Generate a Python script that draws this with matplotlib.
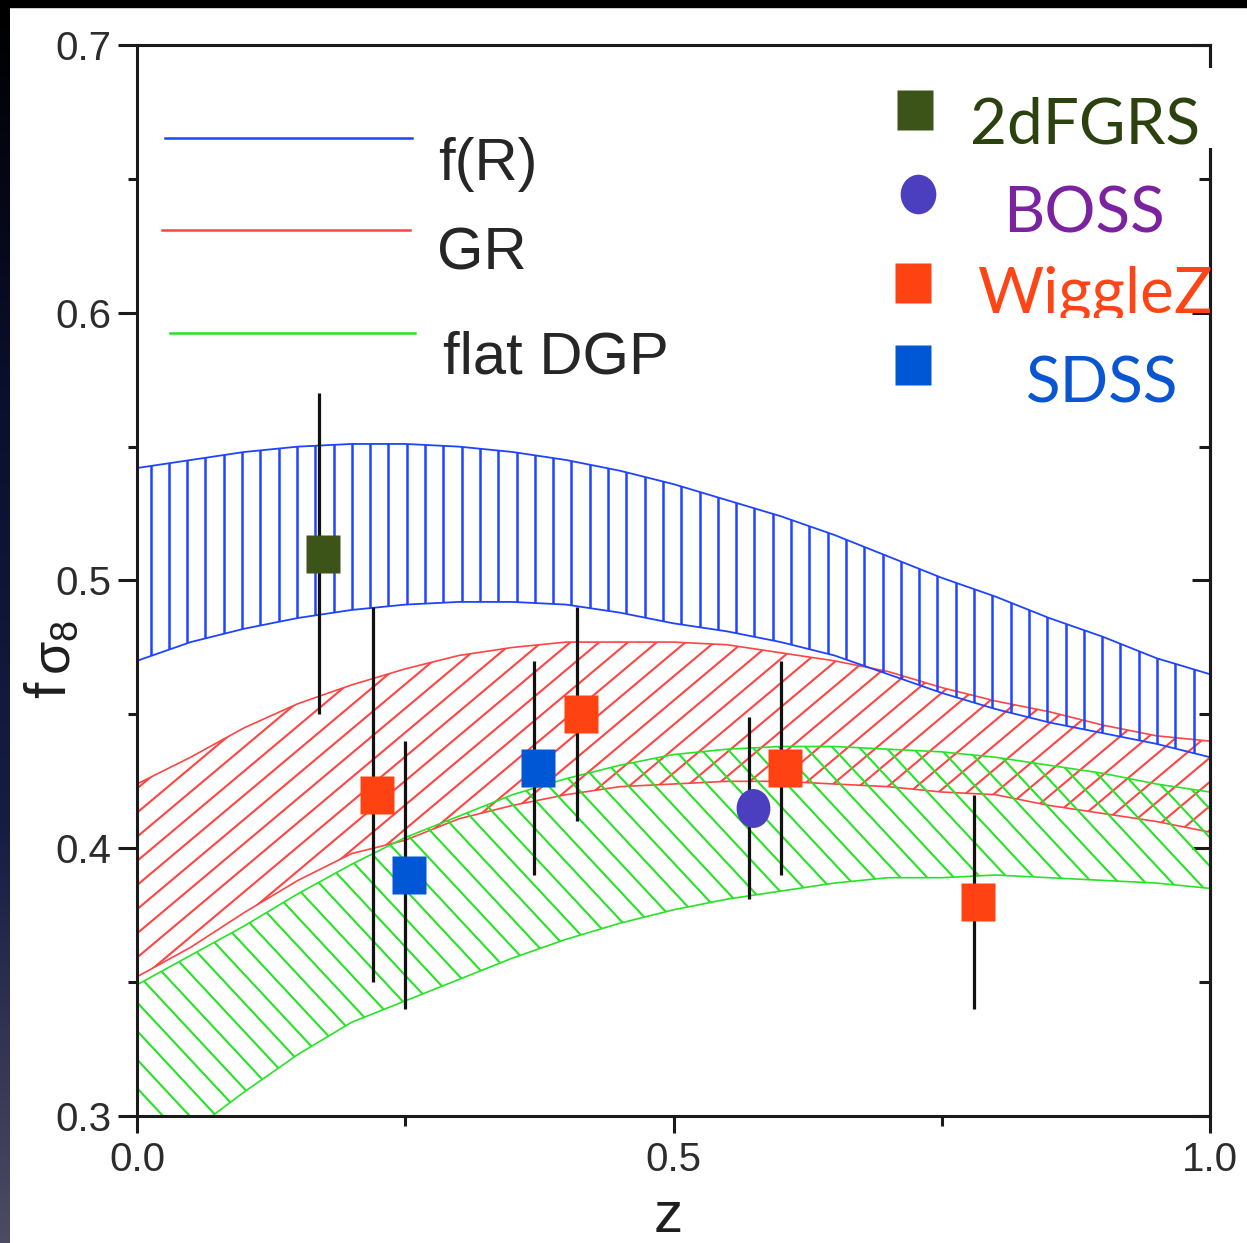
"""Growth rate f*sigma8 vs redshift: model bands (f(R), GR, flat DGP) and survey points."""

import numpy as np
import matplotlib
matplotlib.use("Agg")
import matplotlib.pyplot as plt
from matplotlib.collections import LineCollection
from matplotlib.colors import LinearSegmentedColormap
from matplotlib.markers import MarkerStyle
from matplotlib.patches import Rectangle
from matplotlib.ticker import MultipleLocator
from matplotlib.transforms import Affine2D, ScaledTranslation

FIG_W, FIG_H, DPI = 1247, 1243, 100

# ---- model bands, every dz = 0.05 ----
Z_GRID = [0.00, 0.05, 0.10, 0.15, 0.20, 0.25, 0.30, 0.35, 0.40, 0.45, 0.50,
          0.55, 0.60, 0.65, 0.70, 0.75, 0.80, 0.85, 0.90, 0.95, 1.00]
FR_HI = [0.542, 0.545, 0.548, 0.550, 0.551, 0.551, 0.550, 0.548, 0.545, 0.541, 0.536,
         0.530, 0.524, 0.517, 0.509, 0.501, 0.494, 0.486, 0.479, 0.471, 0.465]
FR_LO = [0.470, 0.477, 0.482, 0.486, 0.489, 0.491, 0.492, 0.492, 0.491, 0.488, 0.484,
         0.481, 0.477, 0.472, 0.465, 0.458, 0.452, 0.447, 0.443, 0.439, 0.434]
GR_HI = [0.424, 0.434, 0.445, 0.454, 0.461, 0.467, 0.472, 0.475, 0.477, 0.477, 0.477,
         0.476, 0.473, 0.470, 0.466, 0.460, 0.455, 0.451, 0.446, 0.442, 0.440]
GR_LO = [0.352, 0.363, 0.376, 0.388, 0.398, 0.403, 0.411, 0.416, 0.420, 0.423, 0.424,
         0.425, 0.425, 0.424, 0.423, 0.421, 0.420, 0.416, 0.413, 0.410, 0.406]
DGP_HI = [0.349, 0.360, 0.371, 0.383, 0.394, 0.404, 0.412, 0.420, 0.426, 0.431, 0.435,
          0.437, 0.438, 0.438, 0.437, 0.436, 0.434, 0.431, 0.428, 0.424, 0.421]
DGP_LO = [0.280, 0.294, 0.309, 0.323, 0.335, 0.343, 0.351, 0.359, 0.366, 0.372, 0.377,
          0.381, 0.384, 0.387, 0.389, 0.389, 0.390, 0.389, 0.388, 0.387, 0.385]
MODEL_NAMES = ["f(R)", "GR", "flat DGP"]

# ---- survey measurements ----
SURVEYS = ["2dFGRS", "BOSS", "WiggleZ", "SDSS"]
Z_2DF, FS8_2DF, ERR_2DF = [0.17], [0.51], [0.06]
Z_BOSS, FS8_BOSS, ERR_BOSS = [0.57], [0.415], [0.034]
Z_WIG, FS8_WIG, ERR_WIG = [0.22, 0.41, 0.60, 0.78], [0.42, 0.45, 0.43, 0.38], [0.07, 0.04, 0.04, 0.04]
Z_SDSS, FS8_SDSS, ERR_SDSS = [0.25, 0.37], [0.39, 0.43], [0.05, 0.04]

BLUE, RED, GREEN = "#1f44ff", "#ff4444", "#27e327"
C_2DF, C_BOSS, C_WIG, C_SDSS = "#3d5419", "#4b3fc0", "#ff4211", "#0057d6"
TXT_2DF, TXT_BOSS, TXT_WIG, TXT_SDSS = "#2b420f", "#7a22a0", "#ff4516", "#0a55d2"

plt.rcParams["font.family"] = ["Liberation Sans", "DejaVu Sans"]
plt.rcParams["mathtext.fontset"] = "custom"
plt.rcParams["mathtext.rm"] = "Liberation Sans"
plt.rcParams["mathtext.it"] = "Liberation Sans"

AX_L, AX_R, AX_T, AX_B = 137, 1210, 45, 1116  # axes box in picture pixels


def fx(x):
    return x / FIG_W


def fy(y):
    return 1 - y / FIG_H


def hatch_band(ax, lo, hi, color, angle, step, lw, edge_lw):
    """Fill between lo/hi with parallel lines at `angle` (deg, screen space), `step` px apart."""
    poly = ax.fill_between(Z_GRID, lo, hi, facecolor="none", edgecolor="none")
    clip = poly.get_paths()[0]
    w, h = AX_R - AX_L, AX_B - AX_T
    t = np.radians(angle)
    d = np.array([np.cos(t), np.sin(t)])
    n = np.array([-np.sin(t), np.cos(t)])
    span = np.hypot(w, h)
    c = np.array([w / 2, h / 2])
    segs = []
    for k in np.arange(-span / 2, span / 2, step):
        p = c + n * k
        a, b = p - d * span, p + d * span
        segs.append([(a[0] / w, a[1] / h), (b[0] / w, b[1] / h)])
    lc = LineCollection(segs, colors=color, linewidths=lw, transform=ax.transAxes)
    ax.add_collection(lc, autolim=False)
    lc.set_clip_path(clip, ax.transData)
    ax.plot(Z_GRID, lo, color=color, lw=edge_lw)
    ax.plot(Z_GRID, hi, color=color, lw=edge_lw)


def main():
    fig = plt.figure(figsize=(FIG_W / DPI, FIG_H / DPI), dpi=DPI)
    fig.patch.set_facecolor("white")

    # dark slide edges (top and left)
    strip = fig.add_axes([0, 0, fx(10), 1])
    strip.axis("off")
    cmap = LinearSegmentedColormap.from_list("edge", ["#000000", "#0b1030", "#171c42", "#4b4b63"])
    strip.imshow(np.linspace(0, 1, 256)[:, None], cmap=cmap, aspect="auto", extent=[0, 1, 0, 1])
    fig.add_artist(Rectangle((0, fy(7)), 1, 7 / FIG_H, color="black", transform=fig.transFigure, zorder=10))

    ax = fig.add_axes([fx(AX_L), fy(AX_B), (AX_R - AX_L) / FIG_W, (AX_B - AX_T) / FIG_H])

    hatch_band(ax, GR_LO, GR_HI, RED, 40, 18.5, 1.5, 1.2)
    hatch_band(ax, DGP_LO, DGP_HI, GREEN, -47, 19.5, 1.5, 1.2)
    hatch_band(ax, FR_LO, FR_HI, BLUE, 90, 18.3, 1.8, 1.3)

    # error bars, then markers slightly shifted right as in the original
    shift = ax.transData + ScaledTranslation(4 / DPI, 0, fig.dpi_scale_trans)
    sq = MarkerStyle("s", transform=Affine2D().scale(0.87, 1.0))
    circ = MarkerStyle("o", transform=Affine2D().scale(0.87, 1.0))
    for z, v, e, m, c in [(Z_2DF, FS8_2DF, ERR_2DF, sq, C_2DF),
                          (Z_BOSS, FS8_BOSS, ERR_BOSS, circ, C_BOSS),
                          (Z_WIG, FS8_WIG, ERR_WIG, sq, C_WIG),
                          (Z_SDSS, FS8_SDSS, ERR_SDSS, sq, C_SDSS)]:
        ax.errorbar(z, v, yerr=e, fmt="none", ecolor="#111111", elinewidth=2.3, capsize=0, zorder=4)
        ax.plot(z, v, ls="none", marker=m, ms=28, color=c, mec="none", transform=shift, zorder=5)

    ax.set_xlim(0, 1)
    ax.set_ylim(0.3, 0.7)
    ax.xaxis.set_major_locator(MultipleLocator(0.5))
    ax.xaxis.set_minor_locator(MultipleLocator(0.25))
    ax.yaxis.set_major_locator(MultipleLocator(0.1))
    ax.yaxis.set_minor_locator(MultipleLocator(0.05))
    for s in ax.spines.values():
        s.set_linewidth(2.2)
        s.set_color("#1a1a1a")
    ax.tick_params(which="both", direction="out", width=2.2, color="#1a1a1a",
                   labelsize=29, labelcolor="#2c2c2c", top=False, right=False)
    ax.tick_params(axis="y", which="major", length=13.5, pad=5)
    ax.tick_params(axis="y", which="minor", length=6.5)
    ax.tick_params(axis="x", which="major", length=12, pad=6)
    ax.tick_params(axis="x", which="minor", length=7)

    right = ax.secondary_yaxis("right")
    right.yaxis.set_major_locator(MultipleLocator(0.1))
    right.yaxis.set_minor_locator(MultipleLocator(0.05))
    right.tick_params(which="both", direction="in", width=2.2, color="#1a1a1a", labelright=False)
    right.tick_params(which="major", length=13)
    right.tick_params(which="minor", length=8)
    right.spines["right"].set_linewidth(2.2)

    # axis titles
    fig.text(fx(668), fy(1232), "z", ha="center", va="baseline", fontsize=42, color="#1e1e1e")
    fig.text(fx(65), fy(698), "f", rotation=90, rotation_mode="anchor", ha="left", va="baseline",
             fontsize=42, color="#1e1e1e")
    fig.text(fx(70), fy(675), r"$\sigma_8$", rotation=90, rotation_mode="anchor", ha="left",
             va="baseline", fontsize=39, color="#1e1e1e")

    # model legend (top left)
    for name, col, (x0, x1, y_line), (x_txt, y_base) in zip(
            MODEL_NAMES, [BLUE, RED, GREEN],
            [(165, 412, 138), (162, 410, 230), (170, 415, 333)],
            [(438, 180), (437, 270), (443, 374)]):
        fig.add_artist(plt.Line2D([fx(x0), fx(x1)], [fy(y_line), fy(y_line)], color=col, lw=1.8,
                                  transform=fig.transFigure))
        fig.text(fx(x_txt), fy(y_base), name, ha="left", va="baseline", fontsize=43, color="#262626")

    # survey legend (top right), pasted boxes as on the slide
    fig.add_artist(Rectangle((fx(955), fy(148)), (1216 - 955) / FIG_W, 80 / FIG_H, facecolor="white",
                             edgecolor="none", transform=fig.transFigure, zorder=5))
    marks = [("s", 915, 110), ("o", 918, 194), ("s", 913, 283), ("s", 913, 365)]
    texts = [(970, 143), (1003, 232), (977, 313), (1026, 402)]
    for name, (m, mx, my), (tx, ty), mc, tc in zip(SURVEYS, marks, texts,
                                                   [C_2DF, C_BOSS, C_WIG, C_SDSS],
                                                   [TXT_2DF, TXT_BOSS, TXT_WIG, TXT_SDSS]):
        if name == "SDSS":
            fig.add_artist(Rectangle((fx(990), fy(425)), (1200 - 990) / FIG_W, 107 / FIG_H,
                                     facecolor="white", edgecolor="none", transform=fig.transFigure, zorder=7))
        z = 8 if name == "SDSS" else 6
        fig.add_artist(plt.Line2D([fx(mx)], [fy(my)], ls="none", color=mc, mec="none", ms=28.5,
                                  marker=MarkerStyle(m, transform=Affine2D().scale(0.9, 1.0)),
                                  transform=fig.transFigure, zorder=z))
        fig.text(fx(tx), fy(ty), name, ha="left", va="baseline", fontsize=46, color=tc,
                 family=["Lato", "DejaVu Sans"], zorder=z)

    fig.savefig("out.png", dpi=DPI)
    plt.close(fig)


if __name__ == "__main__":
    main()
